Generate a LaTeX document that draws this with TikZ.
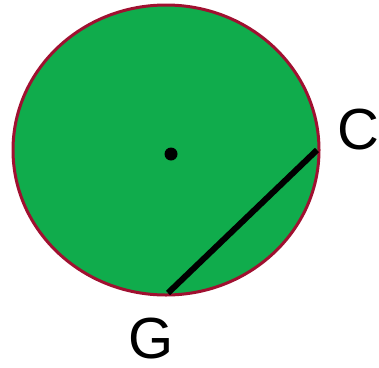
\documentclass[tikz,border=0pt]{standalone}
\usepackage{fontspec}
\setmainfont{Liberation Sans}
\definecolor{fillgreen}{RGB}{16,172,76}
\definecolor{rimred}{RGB}{160,16,48}
\begin{document}
\begin{tikzpicture}[x=1pt,y=-1pt,
  lbl/.style={inner sep=0pt,font=\fontsize{58}{58}\selectfont},
  chord/.style={line width=6pt,black}]
\useasboundingbox (0,0) rectangle (379,367);
\draw[rimred,fill=fillgreen,line width=3pt] (166,150) ellipse [x radius=153, y radius=145];
\node[circle,fill=black,inner sep=0pt,minimum size=13pt] (O) at (171,154) {};
\coordinate (Cp) at (317,150);
\coordinate (Gp) at (168,293);
\draw[chord] (Cp) -- (Gp);
\node[lbl] (C) at (358,130) {C};
\node[lbl] (G) at (151,339) {G};
\end{tikzpicture}
\end{document}
